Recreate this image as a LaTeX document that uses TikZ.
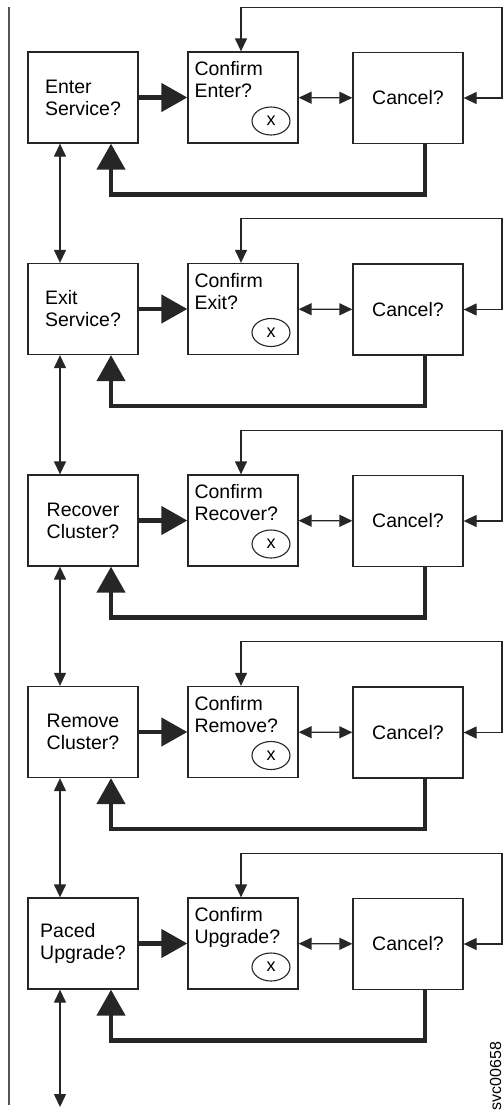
\documentclass[tikz,border=0pt]{standalone}
\usepackage{fontspec}
\setmainfont{Liberation Sans}
\usetikzlibrary{arrows.meta,shapes.geometric}
\definecolor{ink}{HTML}{262626}
\definecolor{rule}{HTML}{555555}
\begin{document}
\begin{tikzpicture}[x=1pt,y=-1pt,
  box/.style={draw=ink, line width=1.3pt, minimum width=110pt, minimum height=91pt,
    inner sep=0pt, align=left, font=\fontsize{19.5}{22}\selectfont},
  txt/.style={inner sep=0pt, align=left, anchor=north west, font=\fontsize{19.5}{22}\selectfont},
  oval/.style={draw=ink, line width=1.1pt, ellipse, minimum width=38pt, minimum height=28pt,
    inner sep=0pt, font=\fontsize{18}{20}\selectfont},
  thinlink/.style={draw=ink, line width=1.3pt,
    {Triangle[length=13pt,width=12pt]}-{Triangle[length=13pt,width=12pt]}},
  thicklink/.style={draw=ink, line width=4.5pt, line join=miter,
    -{Triangle[length=26pt,width=28pt]}}]
\useasboundingbox (0,0) rectangle (503,1112);
% left rule
\coordinate (lt) at (9,7);
\coordinate (lb) at (9,1105);
\draw[rule, line width=1.5pt] (lt) -- (lb);
\foreach \i/\a/\b/\c in {0/Enter/Service?/Enter?,1/Exit/Service?/Exit?,2/Recover/Cluster?/Recover?,3/Remove/Cluster?/Remove?,4/Paced/Upgrade?/Upgrade?}{
  \pgfmathsetmacro\d{211.5*\i}
  \node[box] (L\i) at (83,97.5+\d) {\a\\\b};
  \node[box] (C\i) at (243,97.5+\d) {};
  \node[box] (X\i) at (408,98+\d) {Cancel?};
  \node[txt] (T\i) at ([shift={(7pt,-10pt)}]C\i.north west) {Confirm\\\c};
  \node[oval] (E\i) at (271,121+\d) {x};
  \coordinate (R\i) at (502,7.3+\d);
  \coordinate (A\i) at (425,194.5+\d);
  \coordinate (B\i) at (111,194.5+\d);
  \draw[thicklink] (L\i) -- (C\i);
  \draw[thinlink] (C\i) -- (X\i);
  \draw[thinlink] (X\i.east) -| (R\i) -| ([xshift=-2pt]C\i.north);
  \draw[thicklink] (A\i |- X\i.south) -- (A\i) -- (B\i) -- (B\i |- L\i.south);
}
\foreach \i/\j in {0/1,1/2,2/3,3/4}
  \draw[thinlink] ([xshift=-23pt]L\i.south) -- ([xshift=-23pt]L\j.north);
\coordinate (end) at (60,1107);
\draw[thinlink] ([xshift=-23pt]L4.south) -- (end);
\node[rotate=90, anchor=base, inner sep=0pt, font=\fontsize{16}{18}\selectfont] (id) at (501,1076) {svc00658};
\end{tikzpicture}
\end{document}
